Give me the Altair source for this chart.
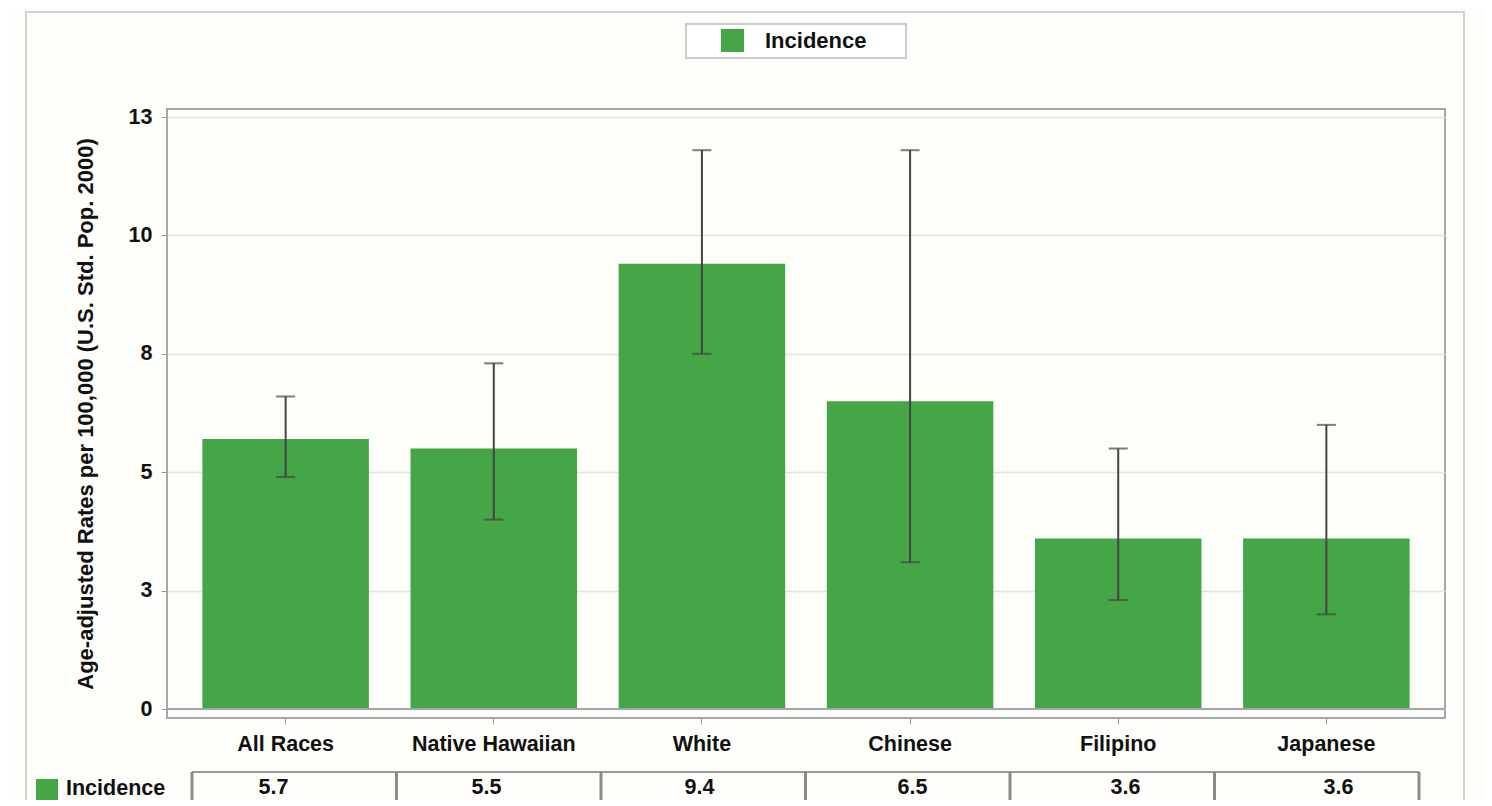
import altair as alt
import pandas as pd

races = ["All Races", "Native Hawaiian", "White", "Chinese", "Filipino", "Japanese"]
rates = [5.7, 5.5, 9.4, 6.5, 3.6, 3.6]
lower = [4.9, 4.0, 7.5, 3.1, 2.3, 2.0]
upper = [6.6, 7.3, 11.8, 11.8, 5.5, 6.0]
y_ticks = [0, 2.5, 5, 7.5, 10, 12.5]
series_name = "Incidence"

GREEN = "#44a647"
FONT = "Liberation Sans"
BG = "#fdfdf9"
FS = 21.5

df = pd.DataFrame({"race": races, "rate": rates, "lo": lower, "hi": upper,
                   "label": [f"{v:.1f}" for v in rates]})
edges = pd.DataFrame({"i": list(range(len(races) + 1))})
one = pd.DataFrame({"name": [series_name]})

W, H = 1278, 609

xscale = alt.Scale(domain=races, paddingInner=0.2, paddingOuter=0.17)
yscale = alt.Scale(domain=[-0.19, 12.67], nice=False, zero=False)

x_axis = alt.Axis(title=None, labelFont=FONT, labelFontSize=FS, labelFontWeight="bold",
                  labelColor="#111", labelPadding=9, tickColor="#999", tickSize=6,
                  domain=False, grid=False, labelAngle=0)
y_axis = alt.Axis(title="Age-adjusted Rates per 100,000 (U.S. Std. Pop. 2000)",
                  values=y_ticks, labelExpr="round(datum.value)",
                  labelFont=FONT, labelFontSize=FS, labelFontWeight="bold", labelColor="#111",
                  labelPadding=9, tickColor="#999", tickSize=6, domain=False,
                  grid=True, gridColor="#e2e2e2", gridWidth=1.5,
                  titleFont=FONT, titleFontSize=22, titleFontWeight="bold", titleColor="#111",
                  titlePadding=31)

base = alt.Chart(df)

bars = base.mark_bar(color=GREEN).encode(
    x=alt.X("race:N", scale=xscale, axis=x_axis, sort=races),
    y=alt.Y("rate:Q", scale=yscale, axis=y_axis),
)

zero_line = alt.Chart(pd.DataFrame({"z": [0]})).mark_rule(color="#a5a8ab", strokeWidth=2).encode(
    y=alt.Y("z:Q", scale=yscale, axis=None)
)

err = base.mark_rule(color="#444", strokeWidth=2).encode(
    x=alt.X("race:N", scale=xscale, axis=None, sort=races),
    y=alt.Y("lo:Q", scale=yscale, axis=None),
    y2="hi:Q",
)
cap_lo = base.mark_tick(color="#444", thickness=2, size=19, orient="horizontal").encode(
    x=alt.X("race:N", scale=xscale, axis=None, sort=races),
    y=alt.Y("lo:Q", scale=yscale, axis=None),
)
cap_hi = base.mark_tick(color="#444", thickness=2, size=19, orient="horizontal").encode(
    x=alt.X("race:N", scale=xscale, axis=None, sort=races),
    y=alt.Y("hi:Q", scale=yscale, axis=None),
)

# data table row below the axis
table_text = base.mark_text(font=FONT, fontSize=FS, fontWeight="bold", color="#111",
                            baseline="alphabetic").encode(
    x=alt.X("race:N", scale=xscale, axis=None, sort=races),
    y=alt.value(685),
    text="label:N",
)
tscale = alt.Scale(domain=[0, len(races)], range=[25, 1252], nice=False, zero=False)
table_vlines = alt.Chart(edges).mark_rule(color="#8a8a8a", strokeWidth=3).encode(
    x=alt.X("i:Q", scale=tscale, axis=None),
    y=alt.value(663), y2=alt.value(700),
)
table_top = alt.Chart(one).mark_rule(color="#9a9a9a", strokeWidth=2).encode(
    x=alt.value(25), x2=alt.value(1252), y=alt.value(663)
)
table_sq = alt.Chart(one).mark_rect(color=GREEN).encode(
    x=alt.value(-131), x2=alt.value(-109), y=alt.value(670), y2=alt.value(691)
)
table_lbl = alt.Chart(one).mark_text(font=FONT, fontSize=FS, fontWeight="bold", color="#111",
                                     align="left", baseline="alphabetic").encode(
    x=alt.value(-101), y=alt.value(686), text="name:N"
)

# top legend
leg_box = alt.Chart(one).mark_rect(fill="#ffffff", stroke="#cccccc", strokeWidth=2).encode(
    x=alt.value(519), x2=alt.value(739), y=alt.value(-85), y2=alt.value(-51)
)
leg_sq = alt.Chart(one).mark_rect(color=GREEN).encode(
    x=alt.value(554), x2=alt.value(577), y=alt.value(-80), y2=alt.value(-57)
)
leg_txt = alt.Chart(one).mark_text(font=FONT, fontSize=22, fontWeight="bold", color="#111",
                                   align="left", baseline="middle").encode(
    x=alt.value(598), y=alt.value(-68), text="name:N"
)

# outer frame
frame = alt.Chart(one).mark_rect(fill=None, stroke="#d3d3d3", strokeWidth=2).encode(
    x=alt.value(-141), x2=alt.value(1297), y=alt.value(-97), y2=alt.value(720)
)

chart = alt.layer(
    frame, bars, zero_line, err, cap_lo, cap_hi,
    table_top, table_vlines, table_text, table_sq, table_lbl,
    leg_box, leg_sq, leg_txt,
).resolve_scale(x="independent", y="independent").properties(
    width=W, height=H,
    autosize=alt.AutoSizeParams(type="none"),
    padding={"left": 159, "top": 101, "right": 39, "bottom": 82},
    background=BG,
).configure_view(stroke="#a3a6aa", strokeWidth=2)

chart.save("out.html", embed_options={"renderer": "svg", "actions": False})
